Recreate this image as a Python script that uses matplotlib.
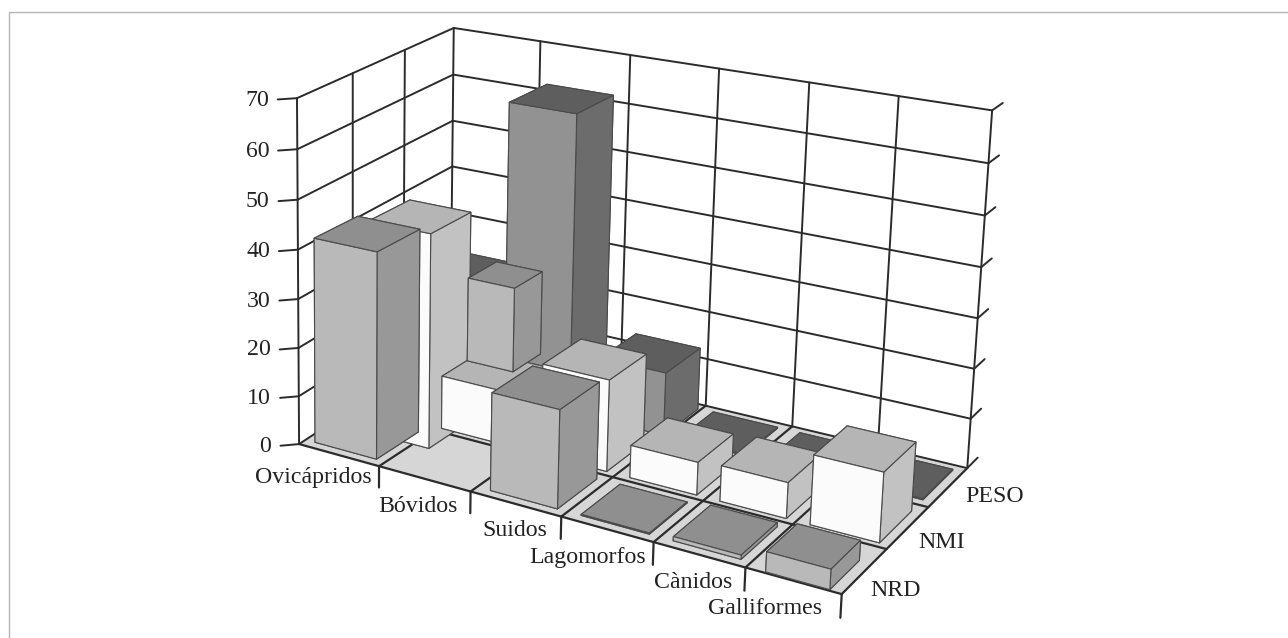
import numpy as np
import matplotlib
matplotlib.use('Agg')
import matplotlib.pyplot as plt
from mpl_toolkits.mplot3d.art3d import Poly3DCollection

plt.rcParams['font.family'] = ['Liberation Serif', 'DejaVu Serif']

categories = ['Ovicápridos', 'Bóvidos', 'Suidos', 'Lagomorfos', 'Cànidos', 'Galliformes']
series = ['NRD', 'NMI', 'PESO']
z_ticks = [0, 10, 20, 30, 40, 50, 60, 70]

nrd = [42, 0, 19.5, 0.2, 0.8, 3.8]
nmi = [44.9, 11, 18.5, 6.5, 7, 13.5]
peso = [22.5, 62, 13, 0.2, 0.2, 0.2]
# NRD block that rests above the Bóvidos NMI column
raised_base = 15.5
raised_height = 17

# face colours: bottom, top, front, back, left, right
palette = {
    'NRD': ['#b9b9b9', '#8f8f8f', '#b9b9b9', '#b9b9b9', '#b9b9b9', '#989898'],
    'NMI': ['#fbfbfb', '#b5b5b5', '#fbfbfb', '#fbfbfb', '#fbfbfb', '#c2c2c2'],
    'PESO': ['#929292', '#5e5e5e', '#929292', '#929292', '#929292', '#6c6c6c'],
}
floor_color = '#d6d6d6'
line_color = '#2b2b2b'

WIDTH, HEIGHT = 1288, 638
X0_FRONT = 0.1  # the left wall leans slightly inward at the front
x_edges = [0.06, 1.08, 2.15, 3.16, 4.14, 5.07, 6]  # cell edges, evened out on screen
BAR_X, BAR_W = 0.15, 0.74
BAR_Y, BAR_D = [0.12, 0.08, 0.12], 0.76
OVI_NMI_BASE = -5  # this column starts a little under the floor line

# per-bar adjustments: (col, row) -> x shift, y shift, width factor, depth factor
bar_tweaks = {
    (1, 1): (-0.12, 0, 1, 1),
    (2, 2): (0.08, 0, 1, 1),
    (5, 0): (0.05, -0.1, 0.9, 0.85),
}

# world point -> pixel pairs used to solve the camera, box corners weighted higher
e = x_edges
world_pts = [(X0_FRONT, 0, 0), (X0_FRONT, 0, 70), (0, 3, 0), (0, 3, 70),
             (6, 3, 0), (6, 3, 70), (6, 0, 0),
             (e[1], 0, 0), (e[2], 0, 0), (e[3], 0, 0), (e[4], 0, 0), (e[5], 0, 0),
             (e[1], 3, 0), (e[2], 3, 0), (e[3], 3, 0), (e[4], 3, 0), (e[5], 3, 0),
             (e[1], 3, 70), (e[2], 3, 70), (e[3], 3, 70), (e[4], 3, 70), (e[5], 3, 70)]
pixel_pts = [(300, 445), (300, 93), (450, 346), (450, 30),
             (970, 462), (993, 113), (837, 598),
             (380, 468), (472, 495), (563, 519), (655, 548), (745, 572),
             (537, 365), (623, 385), (708, 404), (797, 423), (885, 438),
             (541, 44), (631, 58), (722, 71), (812, 85), (902, 99)]
pt_weights = [6] * 7 + [1] * 15

# label anchors, right end and vertical centre in pixels
category_label_pos = [(372, 477), (458, 506), (547, 530), (646, 558), (732, 582), (822, 609)]
series_label_pos = [(870, 590), (918, 542), (965, 497)]


def solve_camera(world, pixels, weights):
    rows = []
    for (x, y, z), (u, v), k in zip(world, pixels, weights):
        p = [x, y, z, 1]
        rows.append([k * c for c in p + [0, 0, 0, 0] + [-u * c for c in p]])
        rows.append([k * c for c in [0, 0, 0, 0] + p + [-v * c for c in p]])
    cam = np.linalg.svd(np.array(rows, float))[2][-1].reshape(3, 4)
    if cam[2] @ np.array([3, 1, 30, 1]) < 0:
        cam = -cam
    return cam


camera = solve_camera(world_pts, pixel_pts, pt_weights)


def to_pixel(x, y, z):
    u, v, w = camera @ np.array([x, y, z, 1.0])
    return u / w, v / w


fig = plt.figure(figsize=(WIDTH / 100, HEIGHT / 100), dpi=100, facecolor='white')
ax = fig.add_axes([0, 0, 1, 1], projection='3d')
ax.set_axis_off()
ax.set_proj_type('ortho')
ax.computed_zorder = False
ax.apply_aspect = lambda position=None: None


def get_proj():
    # pixel rows of the camera, with y flipped, taken back through transData
    to_axes = ax.transData.inverted().get_matrix()
    flip = np.array([[1, 0, 0], [0, -1, HEIGHT], [0, 0, 1]], float)
    cam2d = to_axes @ flip @ camera
    w = cam2d[2]
    depth = np.array([-0.3, 1.0, -0.02, 0.0]) * np.abs(w[3])
    return np.array([cam2d[0], cam2d[1], depth, w])


ax.get_proj = get_proj


def seg(p, q, lw=1.4, order=1, color=line_color):
    ax.plot([p[0], q[0]], [p[1], q[1]], [p[2], q[2]], color=color, lw=lw,
            zorder=order, solid_capstyle='round', clip_on=False)


def left_x(y):
    return X0_FRONT * (1 - y / 3)


floor = Poly3DCollection([[(X0_FRONT, 0, 0), (6, 0, 0), (6, 3, 0), (0, 3, 0)]],
                         facecolor=floor_color, edgecolor='none', zorder=0)
ax.add_collection3d(floor)

# walls
for z in z_ticks:
    seg((X0_FRONT, 0, z), (0, 3, z))
    seg((0, 3, z), (6, 3, z))
    seg((6, 3, z), (6, 3.28, z))
    seg((X0_FRONT, 0, z), (X0_FRONT - 0.137, -0.131, z))
for y in range(4):
    seg((left_x(y), y, 0), (left_x(y), y, 70))
for x in x_edges[1:]:
    seg((x, 3, 0), (x, 3, 70))

# floor grid
for x in x_edges[1:]:
    seg((x, 0, 0), (x, 3, 0), lw=1.6)
for y in range(3):
    seg((left_x(y), y, 0), (6, y, 0), lw=1.6)

# tick marks under the front edge
for x in x_edges[1:]:
    seg((x, 0, 0), (x, 0, -4.4), lw=1.6)

order = 2


def draw_bar(col, row, height, base=0, colors=None, tweak=None, depth=BAR_D):
    global order
    cell = x_edges[col + 1] - x_edges[col]
    dx, dy, kw, kd = tweak or bar_tweaks.get((col, row), (0, 0, 1, 1))
    ax.bar3d([x_edges[col] + BAR_X * cell + dx], [row + BAR_Y[row] + dy], [base],
             [BAR_W * cell * kw], [depth * kd], [height],
             color=colors or palette[series[row]], shade=False,
             edgecolor='#4a4a4a', linewidth=0.8, zorder=order)
    order += 1


for col, h in enumerate(peso):
    draw_bar(col, 2, h)
draw_bar(0, 1, nmi[0], base=OVI_NMI_BASE)
draw_bar(1, 1, nmi[1])
draw_bar(1, 1, raised_height, base=raised_base, colors=palette['NRD'],
         tweak=(0.18, 0, 0.68, 1), depth=0.54)

for col, h in enumerate(nmi):
    if col > 1:
        draw_bar(col, 1, h)
for col, h in enumerate(nrd):
    if h > 0:
        draw_bar(col, 0, h)

text_kw = dict(fontsize=17.2, color='#222222', va='center')
for z in z_ticks:
    px, py = to_pixel(X0_FRONT, 0, z)
    fig.text((px - 28) / WIDTH, 1 - (py + 2) / HEIGHT, str(z), ha='right', **text_kw)
for name, (px, py) in zip(categories, category_label_pos):
    fig.text(px / WIDTH, 1 - py / HEIGHT, name, ha='right', **text_kw)
for name, (px, py) in zip(series, series_label_pos):
    fig.text(px / WIDTH, 1 - py / HEIGHT, name, ha='left', **text_kw)

# thin frame along the top and left of the figure
fig.add_artist(plt.Line2D([9 / WIDTH, 9 / WIDTH, 1],
                          [0, 1 - 12 / HEIGHT, 1 - 12 / HEIGHT],
                          transform=fig.transFigure, color='#b4b4b4', linewidth=1.0))

fig.savefig('out.png', dpi=100)
